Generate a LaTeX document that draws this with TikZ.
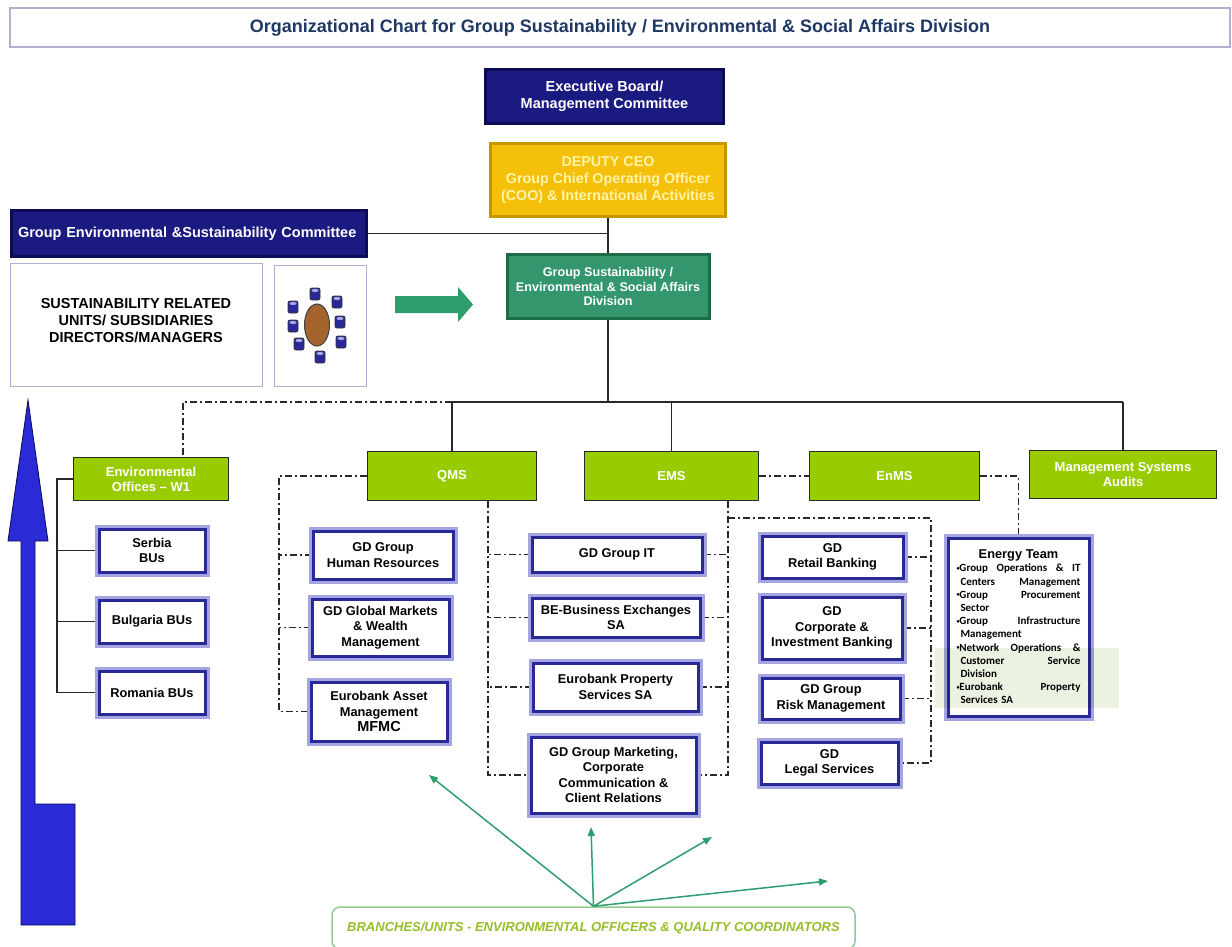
\documentclass[tikz,border=0pt]{standalone}
\usepackage{fontspec}
\setmainfont{Liberation Sans}
\newfontfamily\calibri{Carlito}
\usetikzlibrary{arrows.meta}
\pgfdeclarelayer{background}
\pgfsetlayers{background,main}

\definecolor{boardblue}{RGB}{26,26,128}
\definecolor{boardrim}{RGB}{12,12,86}
\definecolor{ceogold}{RGB}{245,192,10}
\definecolor{ceorim}{RGB}{196,150,0}
\definecolor{ceotext}{RGB}{255,244,170}
\definecolor{divgreen}{RGB}{52,150,108}
\definecolor{divrim}{RGB}{28,108,74}
\definecolor{lime}{RGB}{153,204,0}
\definecolor{unitnavy}{RGB}{40,40,150}
\definecolor{unitrim}{RGB}{165,165,225}
\definecolor{framegray}{RGB}{175,175,210}
\definecolor{titleblue}{RGB}{31,56,100}
\definecolor{arrowblue}{RGB}{42,42,215}
\definecolor{arrowgreen}{RGB}{46,158,110}
\definecolor{branchtext}{RGB}{150,190,40}
\definecolor{branchrim}{RGB}{150,200,150}
\definecolor{linegray}{RGB}{40,40,40}
\definecolor{palegreen}{RGB}{236,242,226}
\definecolor{tablebrown}{RGB}{165,100,45}

\newcommand\dotitem{\raisebox{1.5pt}{\fontsize{6}{6}\selectfont\textbullet}}

\tikzset{
  framebox/.style={draw=framegray, line width=1pt, fill=white, align=center, inner sep=0pt},
  bevelbox/.style 2 args={draw=#2, line width=3pt, fill=#1, align=center, inner sep=0pt, text=white, font=\bfseries\fontsize{14.5}{17}\selectfont},
  limebox/.style={draw=linegray, line width=1.5pt, fill=lime, align=center, inner sep=0pt, text=white, font=\bfseries\fontsize{13}{15}\selectfont},
  unitbox/.style={draw=unitnavy, line width=3pt, fill=white, preaction={draw=unitrim, line width=9pt}, align=center, inner sep=0pt, font=\bfseries\fontsize{12.8}{15.5}\selectfont},
  trunk/.style={draw=linegray, line width=1.9pt},
  linkdash/.style={draw=linegray, line width=1.6pt, dash pattern=on 7pt off 3pt on 2pt off 3pt},
  pointer/.style={draw=arrowgreen, line width=1.5pt, -{Triangle[length=9pt, width=7pt]}},
}

\begin{document}
\begin{tikzpicture}[x=1pt, y=-1pt]
\useasboundingbox (0,0) rectangle (1232,947);
\begin{pgfonlayer}{background}
\fill[white] (0,0) rectangle (1232,947);
\end{pgfonlayer}

% header and top of the chart
\node[framebox, line width=1.5pt, minimum width=1220, minimum height=39, text=titleblue, font=\bfseries\fontsize{18}{20}\selectfont] (title) at (620,27.5) {Organizational Chart for Group Sustainability / Environmental \& Social Affairs Division};
\node[bevelbox={boardblue}{boardrim}, minimum width=238, minimum height=54] (exec) at (604.5,96.5) {Executive Board/\\Management Committee};
\node[bevelbox={ceogold}{ceorim}, text=ceotext, font=\bfseries\fontsize{14.3}{17}\selectfont, minimum width=235, minimum height=73] (deputy) at (608,180) {DEPUTY CEO\\Group Chief Operating Officer\\(COO) \& International Activities};
\node[bevelbox={boardblue}{boardrim}, minimum width=355, minimum height=46, text width=342, align=left] (committee) at (189,233.5) {Group Environmental \&Sustainability Committee};
\node[framebox, minimum width=252, minimum height=123, font=\bfseries\fontsize{14.5}{17}\selectfont] (units) at (136,324.5) {SUSTAINABILITY RELATED\\UNITS/ SUBSIDIARIES\\DIRECTORS/MANAGERS\\[-9pt]\mbox{}};
\node[framebox, minimum width=92, minimum height=121] (meeting) at (320,325.5) {};
\node[bevelbox={divgreen}{divrim}, font=\bfseries\fontsize{12.6}{14.5}\selectfont, minimum width=202, minimum height=64] (gsd) at (608,286.5) {Group Sustainability /\\Environmental \& Social Affairs\\Division};

% meeting table with chairs
\filldraw[fill=tablebrown, draw=black!75, line width=1pt] (317,325) ellipse [x radius=12.5pt, y radius=21pt];
\foreach \cx/\cy in {315/294, 293/307, 337/302, 293/326, 340/322, 299/344, 341/342, 320/357} {
  \filldraw[fill=unitnavy, draw=black!80, line width=0.8pt, rounded corners=2pt] (\cx-5,\cy-6) rectangle (\cx+5,\cy+6);
  \fill[unitrim] (\cx,\cy-3.5) ellipse [x radius=3.5pt, y radius=1.6pt];
}
\fill[arrowgreen] (395,296) -- (458,296) -- (458,287) -- (473,304.5) -- (458,322) -- (458,313) -- (395,313) -- cycle;

% big arrow on the left
\filldraw[fill=arrowblue, draw=boardrim, line width=0.8pt] (28,400) -- (48,541) -- (35,541) -- (35,804) -- (75,804) -- (75,925) -- (21,925) -- (21,541) -- (8,541) -- cycle;

% management systems
\node[limebox, minimum width=155, minimum height=43] (envoff) at (151,479) {Environmental\\Offices – W1};
\node[limebox, minimum width=169, minimum height=49] (qms) at (452,476) {QMS};
\node[limebox, minimum width=174, minimum height=49] (ems) at (671.5,476) {EMS};
\node[limebox, minimum width=170, minimum height=49] (enms) at (894.5,476) {EnMS};
\node[limebox, minimum width=187, minimum height=48] (msa) at (1123,474.5) {Management Systems\\Audits};

% units
\node[unitbox, minimum width=106, minimum height=43] (serbia) at (152,550.5) {Serbia\\BUs};
\node[unitbox, minimum width=106, minimum height=43] (bulgaria) at (152,621.5) {Bulgaria BUs};
\node[unitbox, minimum width=106, minimum height=43] (romania) at (152,692.5) {Romania BUs};
\node[unitbox, minimum width=140, minimum height=48] (hr) at (383,555) {GD Group\\Human Resources};
\node[unitbox, minimum width=137, minimum height=57] (gm) at (380.5,627.5) {GD Global Markets\\\& Wealth\\Management};
\node[unitbox, minimum width=136, minimum height=59] (asset) at (379,711.5) {Eurobank Asset\\Management\\{\fontsize{14.5}{16}\selectfont MFMC}};
\node[unitbox, minimum width=170, minimum height=35] (it) at (617,554.5) {GD Group IT};
\node[unitbox, minimum width=168, minimum height=39] (be) at (616,617.5) {BE-Business Exchanges\\SA};
\node[unitbox, minimum width=165, minimum height=48] (prop) at (615.5,687) {Eurobank Property\\Services SA};
\node[unitbox, minimum width=165, minimum height=76] (mkt) at (613.5,775) {GD Group Marketing,\\Corporate\\Communication \&\\Client Relations};
\node[unitbox, minimum width=141, minimum height=42] (retail) at (832.5,557) {GD\\Retail Banking};
\node[unitbox, minimum width=140, minimum height=62] (cib) at (832,628) {GD\\Corporate \&\\Investment Banking};
\node[unitbox, minimum width=138, minimum height=41] (risk) at (831,698.5) {GD Group\\Risk Management};
\node[unitbox, minimum width=137, minimum height=42] (legal) at (829.5,763) {GD\\Legal Services};
\node[unitbox, minimum width=141, minimum height=178, text width=124, align=left, font=\calibri\bfseries\fontsize{11}{13.2}\selectfont] (energy) at (1018.5,627) {\makebox[124pt]{\normalfont\bfseries\fontsize{12.8}{14}\selectfont Energy Team}\\
\dotitem Group\hfill Operations\hfill \&\hfill IT\\
\hspace*{4pt}Centers\hfill Management\\
\dotitem Group\hfill Procurement\\
\hspace*{4pt}Sector\\
\dotitem Group\hfill Infrastructure\\
\hspace*{4pt}Management\\
\dotitem Network\hfill Operations\hfill \&\\
\hspace*{4pt}Customer\hfill Service\\
\hspace*{4pt}Division\\
\dotitem Eurobank\hfill Property\\
\hspace*{4pt}Services SA};
\fill[palegreen, blend mode=multiply] (935,648) rectangle (1119,708);

\node[draw=branchrim, line width=1.5pt, rounded corners=8pt, fill=white, minimum width=523, minimum height=42, inner sep=0pt, text=branchtext, font=\bfseries\itshape\fontsize{13}{15}\selectfont] (branches) at (593.5,928) {BRANCHES/UNITS - ENVIRONMENTAL OFFICERS \& QUALITY COORDINATORS};

% free ends and trunks
\coordinate (bus) at (608,402);
\coordinate (envtrunk) at (57,479);
\coordinate (qmstrunk) at (279,476);
\coordinate (qleg) at ([xshift=36pt]qms.south);
\coordinate (eleg) at ([xshift=56.5pt]ems.south);
\coordinate (enmstrunk) at (931,518);
\coordinate (envdrop) at ([xshift=32pt]envoff.north);
\coordinate (pa) at (429,775);
\coordinate (pb) at (591,827);
\coordinate (pc) at (712,837);
\coordinate (pd) at (828,881);

\begin{pgfonlayer}{background}
\draw[trunk] (deputy.south) -- (gsd.north);
\draw[trunk] (committee.east) -- (committee.east -| deputy.south);
\draw[trunk] (gsd.south) -- (bus);
\draw[trunk] (qms.north |- bus) -- (msa.north |- bus);
\foreach \n in {qms,ems,msa} \draw[trunk] (\n.north |- bus) -- (\n.north);
\draw[linkdash] (qms.north |- bus) -- (envdrop |- bus) -- (envdrop);
\draw[trunk] (envoff.west) -- (envtrunk) |- (romania.west);
\foreach \n in {serbia,bulgaria} \draw[trunk] (\n.west) -- (\n.west -| envtrunk);
\draw[linkdash] (qms.west) -- (qmstrunk) |- (asset.west);
\foreach \n in {hr,gm} \draw[linkdash] (\n.west) -- (\n.west -| qmstrunk);
\draw[linkdash] (qleg) |- (mkt.west);
\draw[linkdash] (eleg) |- (mkt.east);
\foreach \n in {it,be,prop} {
  \draw[linkdash] (\n.west) -- (\n.west -| qleg);
  \draw[linkdash] (\n.east) -- (\n.east -| eleg);
}
\draw[linkdash] (eleg |- enmstrunk) -- (enmstrunk) |- (legal.east);
\foreach \n in {retail,cib,risk} \draw[linkdash] (\n.east) -- (\n.east -| enmstrunk);
\draw[linkdash] (ems.east) -- (enms.west);
\draw[linkdash] (enms.east) -| (energy.north);
\end{pgfonlayer}

\foreach \p in {pa,pb,pc,pd} \draw[pointer] (branches.north) -- (\p);
\end{tikzpicture}
\end{document}
